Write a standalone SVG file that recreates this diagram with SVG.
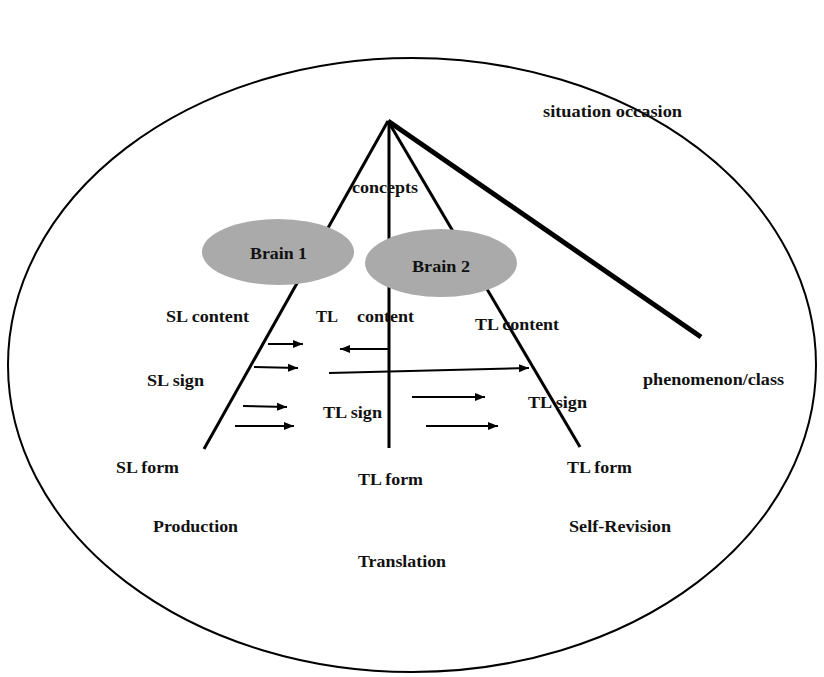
<svg xmlns="http://www.w3.org/2000/svg" width="824" height="677" viewBox="0 0 824 677">
  <style>
    .lbl { font-family: "Liberation Serif", "Times New Roman", serif; font-weight: bold; font-size: 17px; fill: #111; }
    .edge { stroke: #000; fill: none; stroke-linecap: butt; }
    .arr { stroke: #000; stroke-width: 2; fill: none; marker-end: url(#head); }
    .brain { fill: #aaaaaa; stroke: none; }
  </style>
  <defs>
    <marker id="head" viewBox="0 0 10 10" refX="10" refY="5" markerWidth="10" markerHeight="10" markerUnits="userSpaceOnUse" orient="auto">
      <path d="M0,1 L10,5 L0,9 Z" fill="#000"/>
    </marker>
  </defs>

  <rect width="824" height="677" fill="#fff"/>

  <!-- situation boundary -->
  <ellipse id="situation" cx="412" cy="365" rx="404" ry="307" fill="none" stroke="#000" stroke-width="2"/>

  <!-- connectors: fan of lines from the concept apex, plus transfer arrows -->
  <g id="connectors">
    <line class="edge" x1="388" y1="121" x2="204" y2="449" stroke-width="3"/>
    <line class="edge" x1="389" y1="121" x2="389" y2="448" stroke-width="3"/>
    <line class="edge" x1="388" y1="121" x2="580" y2="447" stroke-width="3"/>
    <line class="edge" x1="388" y1="121" x2="701" y2="337" stroke-width="5"/>

    <line class="arr" x1="268" y1="344" x2="303" y2="344"/>
    <line class="arr" x1="254" y1="367" x2="298" y2="368"/>
    <line class="arr" x1="243" y1="406" x2="287" y2="407"/>
    <line class="arr" x1="235" y1="426" x2="294" y2="426"/>
    <line class="arr" x1="389" y1="349" x2="340" y2="349"/>
    <line class="arr" x1="329" y1="373" x2="529" y2="368" stroke-width="1.6"/>
    <line class="arr" x1="412" y1="397" x2="485" y2="397"/>
    <line class="arr" x1="426" y1="426" x2="498" y2="426"/>
  </g>

  <!-- brains -->
  <g id="brain1">
    <ellipse class="brain" cx="278" cy="252" rx="76" ry="33"/>
    <text class="lbl" x="250" y="259" textLength="57" lengthAdjust="spacingAndGlyphs">Brain 1</text>
  </g>
  <g id="brain2">
    <ellipse class="brain" cx="441" cy="263" rx="76" ry="34"/>
    <text class="lbl" x="412" y="272" textLength="58" lengthAdjust="spacingAndGlyphs">Brain 2</text>
  </g>

  <!-- labels -->
  <g id="labels">
    <text class="lbl" x="543" y="117" textLength="139" lengthAdjust="spacingAndGlyphs">situation occasion</text>
    <text class="lbl" x="352" y="193" textLength="66" lengthAdjust="spacingAndGlyphs">concepts</text>
    <text class="lbl" x="166" y="322" textLength="83" lengthAdjust="spacingAndGlyphs">SL content</text>
    <text class="lbl" x="316" y="322" textLength="22" lengthAdjust="spacingAndGlyphs">TL</text>
    <text class="lbl" x="357" y="322" textLength="57" lengthAdjust="spacingAndGlyphs">content</text>
    <text class="lbl" x="475" y="330" textLength="84" lengthAdjust="spacingAndGlyphs">TL content</text>
    <text class="lbl" x="147" y="386" textLength="57" lengthAdjust="spacingAndGlyphs">SL sign</text>
    <text class="lbl" x="323" y="418" textLength="59" lengthAdjust="spacingAndGlyphs">TL sign</text>
    <text class="lbl" x="528" y="408" textLength="59" lengthAdjust="spacingAndGlyphs">TL sign</text>
    <text class="lbl" x="643" y="385" textLength="141" lengthAdjust="spacingAndGlyphs">phenomenon/class</text>
    <text class="lbl" x="116" y="473" textLength="63" lengthAdjust="spacingAndGlyphs">SL form</text>
    <text class="lbl" x="358" y="485" textLength="65" lengthAdjust="spacingAndGlyphs">TL form</text>
    <text class="lbl" x="567" y="473" textLength="65" lengthAdjust="spacingAndGlyphs">TL form</text>
    <text class="lbl" x="153" y="532" textLength="85" lengthAdjust="spacingAndGlyphs">Production</text>
    <text class="lbl" x="569" y="532" textLength="102" lengthAdjust="spacingAndGlyphs">Self-Revision</text>
    <text class="lbl" x="358" y="567" textLength="88" lengthAdjust="spacingAndGlyphs">Translation</text>
  </g>
</svg>
